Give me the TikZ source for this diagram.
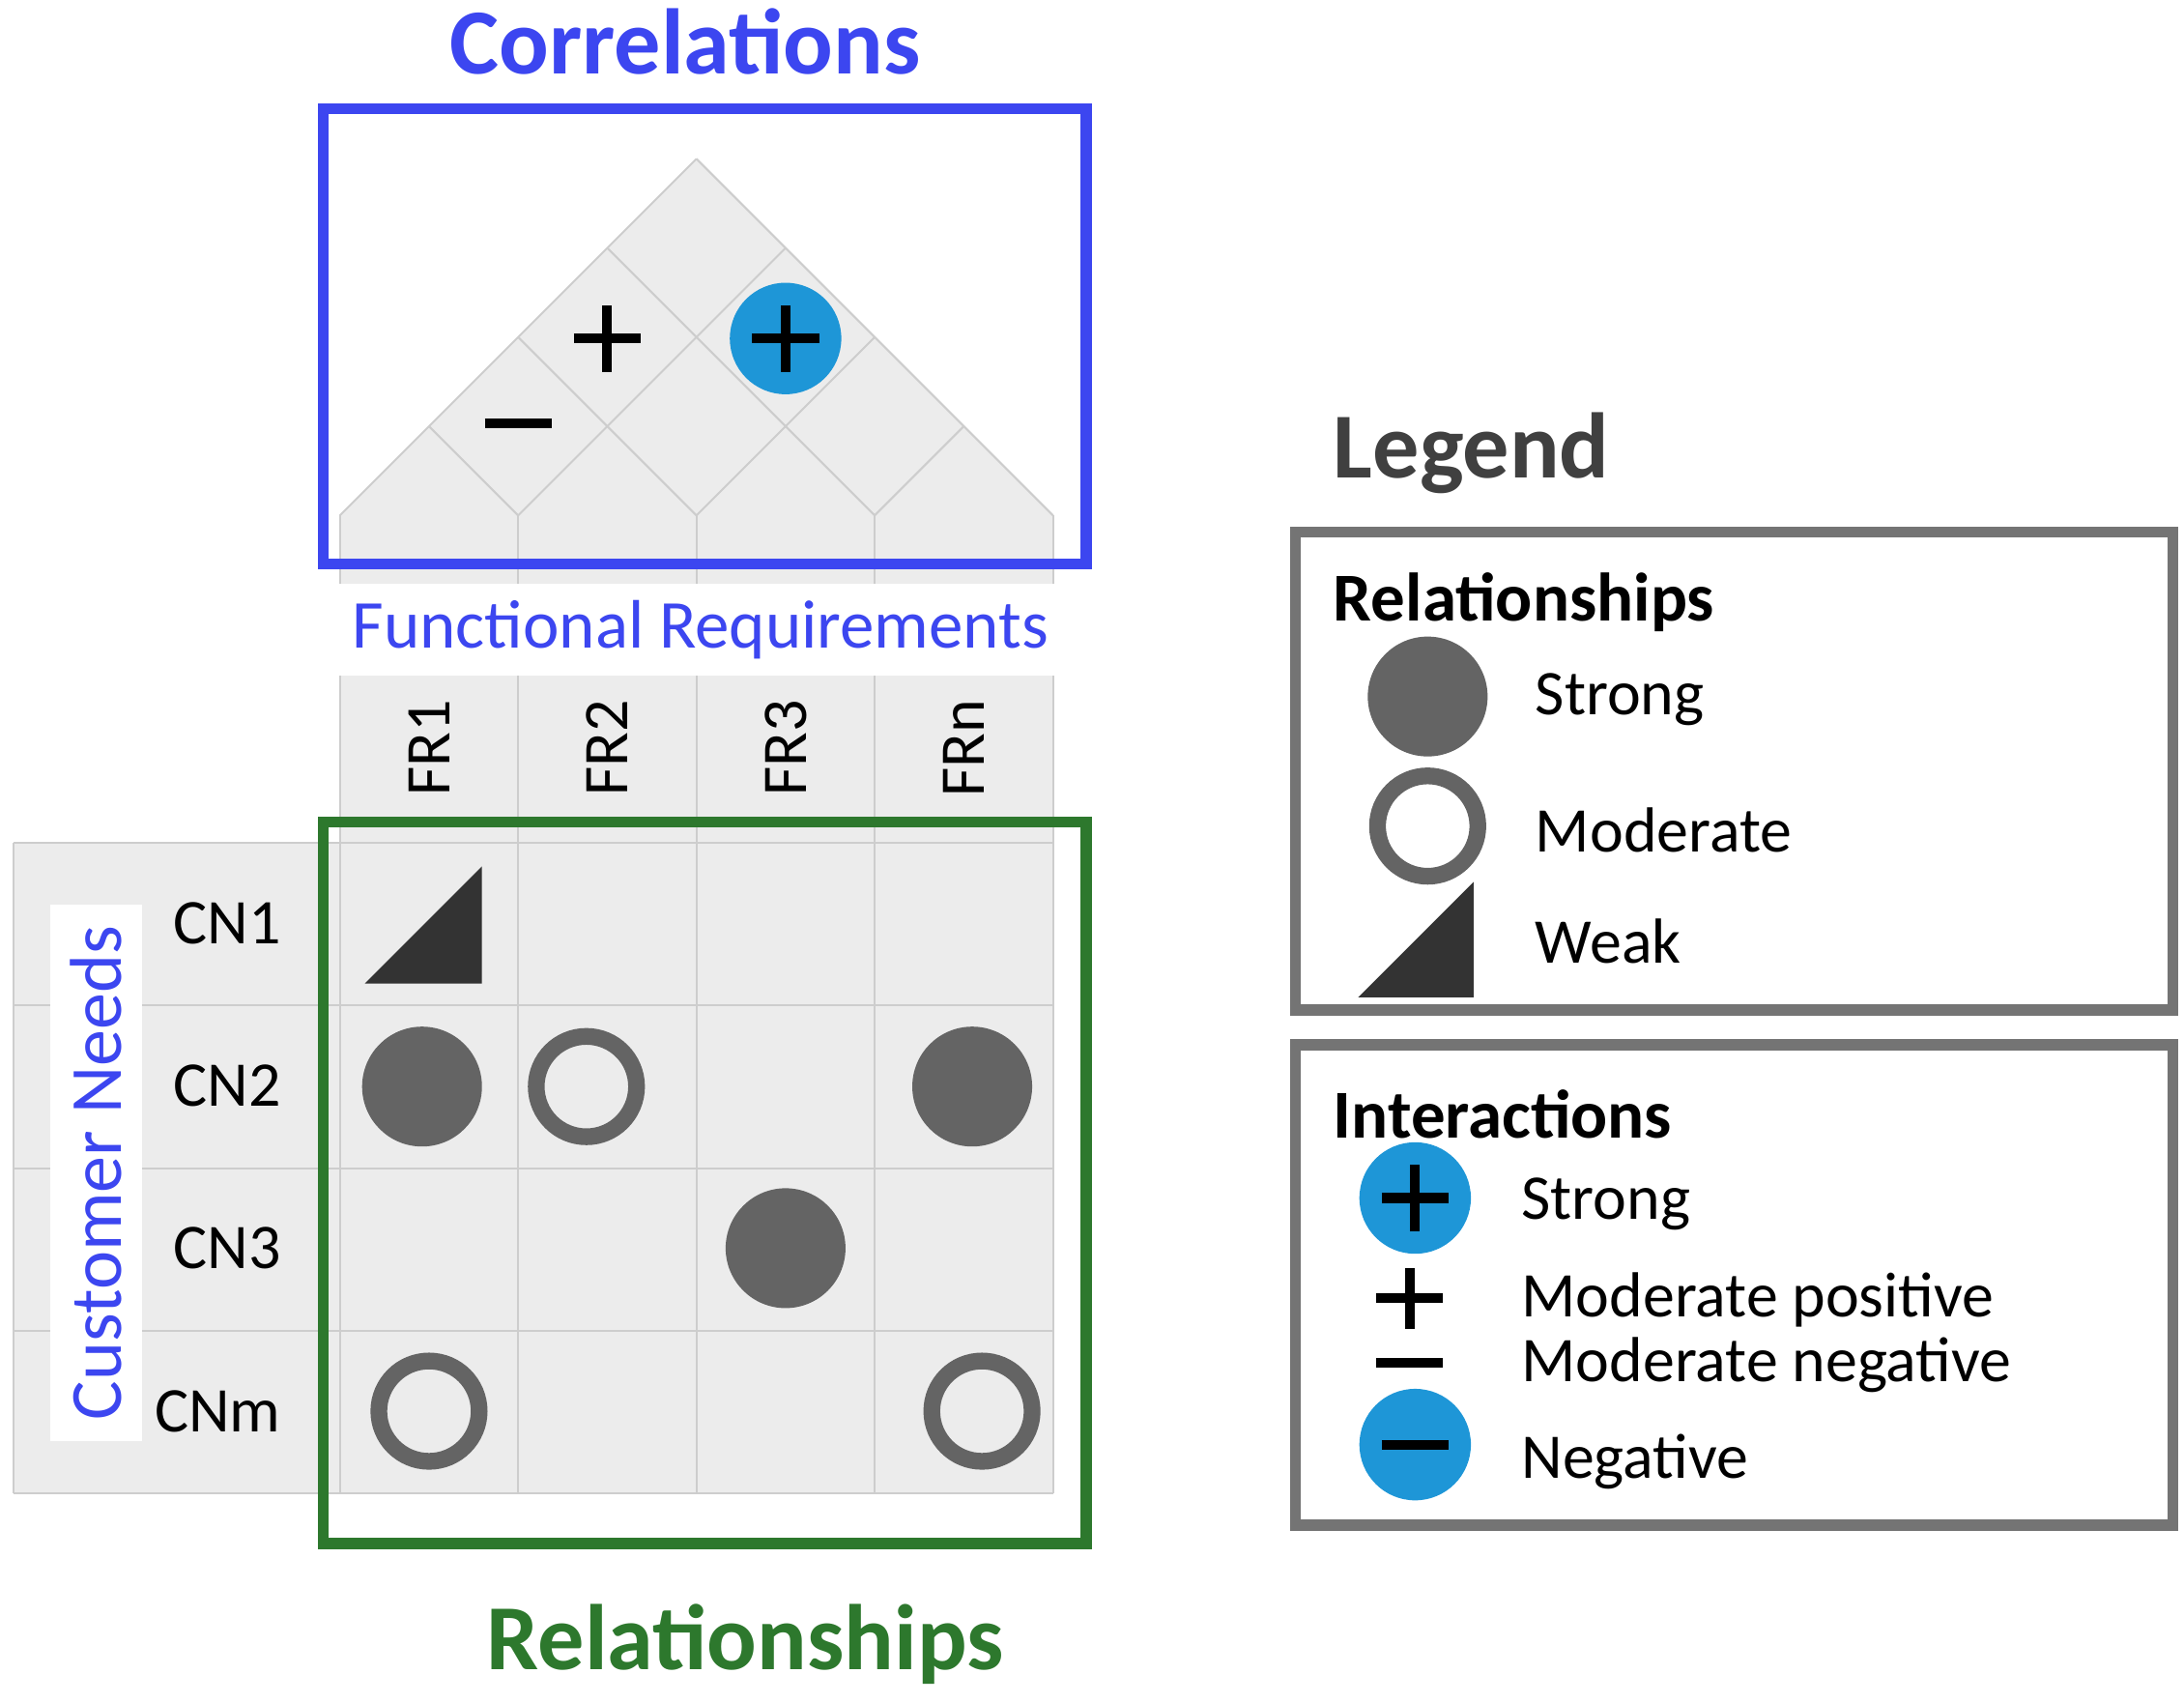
\documentclass[tikz,border=0pt]{standalone}
\usepackage{fontspec}
\setmainfont{Carlito}
\usetikzlibrary{positioning}
\definecolor{corrblue}{RGB}{60,70,240}
\definecolor{relgreen}{RGB}{45,120,45}
\definecolor{symgrey}{RGB}{100,100,100}
\definecolor{dotblue}{RGB}{30,150,215}
\definecolor{cellgrey}{RGB}{236,236,236}
\definecolor{gridgrey}{RGB}{205,205,205}
\begin{document}
\begin{tikzpicture}[x=0.01cm,y=-0.01cm,
    strong/.style={circle,fill=symgrey,minimum size=0.86cm,inner sep=0pt},
    moderate/.style={circle,draw=symgrey,line width=0.12cm,minimum size=0.72cm,inner sep=0pt},
    bluedot/.style={circle,fill=dotblue,minimum size=0.8cm,inner sep=0pt},
    bar/.style={line width=0.07cm},
    label text/.style={font=\fontsize{13}{13}\selectfont},
    frame/.style={line width=0.08cm},
    title/.style={font=\fontsize{19}{19}\selectfont\bfseries}]
  \useasboundingbox (0,0) rectangle (1568,1222);
  % roof and matrix background
  \fill[cellgrey] (244,370) -- (500,114) -- (756,370) -- cycle;
  \fill[cellgrey] (244,370) rectangle (756,1072);
  \fill[cellgrey] (10,605) rectangle (244,1072);
  \foreach \i in {0,...,4}{
    \draw[gridgrey] (244+128*\i,370) -- ++(-64*\i,-64*\i);
    \draw[gridgrey] (244+128*\i,370) -- ++(256-64*\i,-256+64*\i);
    \draw[gridgrey] (244+128*\i,370) -- (244+128*\i,1072);
    \draw[gridgrey] (10,605+116.75*\i) -- (756,605+116.75*\i);
  }
  \draw[gridgrey] (10,605) -- (10,1072);
  % headers
  \node[fill=white,text=corrblue,font=\fontsize{14}{14}\selectfont,minimum width=4.82cm,minimum height=0.65cm] (fr) at (503,452) {Functional Requirements};
  \foreach \t [count=\i] in {FR1,FR2,FR3,FRn}
    \node[rotate=90,label text] (fr\i) at (180+128*\i,537) {\t};
  \node[fill=white,rotate=90,text=corrblue,font=\fontsize{15}{15}\selectfont,minimum width=3.85cm,minimum height=0.66cm] (cn) at (69,842) {Customer Needs};
  \foreach \t [count=\i] in {CN1,CN2,CN3,CNm}
    \node[label text,anchor=east] (cn\i) at (214,546+116.75*\i) {\t};
  % correlations
  \coordinate (cpos) at (436,243);
  \draw[bar] ([xshift=-0.24cm]cpos) -- ([xshift=0.24cm]cpos) ([yshift=-0.24cm]cpos) -- ([yshift=0.24cm]cpos);
  \coordinate (cneg) at (372,304);
  \draw[bar] ([xshift=-0.24cm]cneg) -- ([xshift=0.24cm]cneg);
  \node[bluedot] (cstr) at (564,243) {};
  \draw[bar] ([xshift=-0.24cm]cstr.center) -- ([xshift=0.24cm]cstr.center) ([yshift=-0.24cm]cstr.center) -- ([yshift=0.24cm]cstr.center);
  % relationships
  \fill[black!80] (262,706) -- (346,622) -- (346,706) -- cycle;
  \node[strong] (r21) at (303,780) {};
  \node[moderate] (r22) at (421,780) {};
  \node[strong] (r24) at (698,780) {};
  \node[strong] (r33) at (564,896) {};
  \node[moderate] (r41) at (308,1013) {};
  \node[moderate] (r44) at (705,1013) {};
  % frames and titles
  \draw[frame,corrblue] (232,78) rectangle (780,405);
  \draw[frame,relgreen] (232,590) rectangle (780,1108);
  \node[title,text=corrblue] (tcorr) at (492,30) {Correlations};
  \node[title,text=relgreen] (trel) at (535,1180) {Relationships};
  % legend
  \node[title,text=black!75,anchor=west] (leg) at (945,325) {Legend};
  \draw[frame,symgrey!90] (930,382) rectangle (1560,725);
  \draw[frame,symgrey!90] (930,750) rectangle (1560,1095);
  \node[font=\fontsize{14}{14}\selectfont\bfseries,anchor=west] (lrel) at (945,432) {Relationships};
  \node[strong] (ls) at (1025,500) {};
  \node[label text,anchor=west] (lst) at (1090,502) {Strong};
  \node[moderate] (lm) at (1025,593) {};
  \node[label text,anchor=west] (lmt) at (1090,596) {Moderate};
  \fill[black!80] (975,716) -- (1058,633) -- (1058,716) -- cycle;
  \node[label text,anchor=west] (lwt) at (1090,676) {Weak};
  \node[font=\fontsize{14}{14}\selectfont\bfseries,anchor=west] (lint) at (945,800) {Interactions};
  \node[bluedot] (lis) at (1016,860) {};
  \draw[bar] ([xshift=-0.24cm]lis.center) -- ([xshift=0.24cm]lis.center) ([yshift=-0.24cm]lis.center) -- ([yshift=0.24cm]lis.center);
  \node[label text,anchor=west] (list) at (1080,864) {Strong};
  \coordinate (lip) at (1012,932);
  \draw[bar] ([xshift=-0.24cm]lip) -- ([xshift=0.24cm]lip) ([yshift=-0.22cm]lip) -- ([yshift=0.22cm]lip);
  \node[label text,anchor=west] (lipt) at (1080,933) {Moderate positive};
  \coordinate (lin) at (1012,978);
  \draw[bar] ([xshift=-0.24cm]lin) -- ([xshift=0.24cm]lin);
  \node[label text,anchor=west] (lint2) at (1080,980) {Moderate negative};
  \node[bluedot] (lineg) at (1016,1037) {};
  \draw[bar] ([xshift=-0.24cm]lineg.center) -- ([xshift=0.24cm]lineg.center);
  \node[label text,anchor=west] (linet) at (1080,1049) {Negative};
\end{tikzpicture}
\end{document}
